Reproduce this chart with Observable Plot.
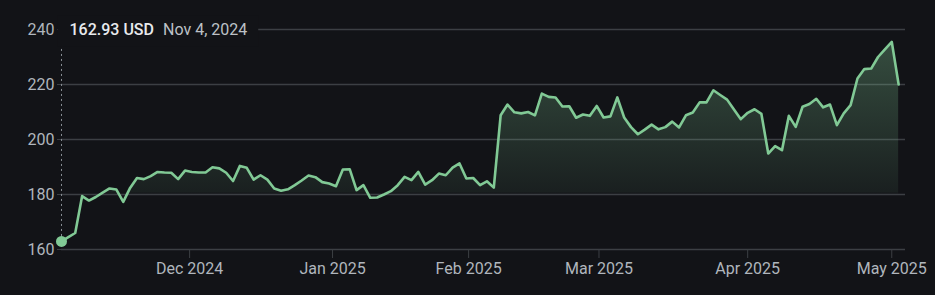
<!DOCTYPE html>
<html><head><meta charset="utf-8">
<script src="https://cdn.jsdelivr.net/npm/d3@7"></script>
<script src="https://cdn.jsdelivr.net/npm/@observablehq/plot@0.6"></script>
<style>
html,body{margin:0;padding:0;background:#121317;}
#chart{width:935px;height:295px;overflow:hidden;}
svg{display:block;}
</style></head><body><div id="chart"></div>
<script>
// Daily closing prices, one per trading day (Nov 4, 2024 – May 2, 2025)
const prices = [
  162.93, 164.5, 166.0, 179.4, 177.8, 179.1, 180.7, 182.2, 181.8, 177.3,
  182.4, 186.0, 185.6, 186.7, 188.2, 188.0, 187.9, 185.6, 188.7, 188.2,
  188.0, 188.0, 189.9, 189.5, 187.9, 184.9, 190.4, 189.7, 185.4, 187.0,
  185.4, 182.2, 181.4, 181.9, 183.4, 185.1, 186.9, 186.3, 184.5, 184.0,
  183.0, 189.1, 189.2, 181.6, 183.4, 178.8, 178.9, 180.0, 181.2, 183.4,
  186.4, 185.2, 188.2, 183.6, 185.2, 187.6, 187.0, 189.8, 191.3, 185.8,
  186.0, 183.4, 184.8, 182.5, 208.8, 212.7, 209.9, 209.5, 210.0, 208.8,
  216.7, 215.5, 215.3, 212.0, 212.1, 207.9, 209.1, 208.6, 212.2, 208.0,
  208.4, 215.3, 208.0, 204.5, 201.9, 203.6, 205.4, 203.7, 204.5, 206.5,
  204.4, 208.8, 209.8, 213.5, 213.5, 217.9, 216.2, 214.5, 210.9, 207.4,
  209.7, 211.0, 209.3, 194.9, 197.6, 196.1, 208.6, 204.6, 211.9, 212.9,
  214.8, 211.7, 212.7, 205.2, 209.5, 212.5, 222.2, 225.6, 225.8, 230.0,
  232.8, 235.5, 220.0
];
const yTicks = [160, 180, 200, 220, 240];
// month boundaries expressed in trading-day positions
const xTickPos = [18.67, 39.5, 59.33, 78.33, 100, 121];
const xTickLabels = ["Dec 2024", "Jan 2025", "Feb 2025", "Mar 2025", "Apr 2025", "May 2025"];
const currency = "USD";
const firstDateLabel = "Nov 4, 2024";

const data = prices.map((v, i) => ({i, v}));
const first = data[0];
const green = "#81c995";
const bg = "#121317";
const gridColor = "#3c3f44";
const labelColor = "#b0b6bd";
const guideDash = "2,3";

const valueLabel = `${first.v.toFixed(2)} ${currency}`;
const ctx = document.createElement("canvas").getContext("2d");
ctx.font = "500 16px Roboto";
const valueWidth = ctx.measureText(valueLabel).width;

const plot = Plot.plot({
  width: 935, height: 295,
  marginLeft: 61, marginRight: 30, marginTop: 29, marginBottom: 46,
  style: {background: bg, color: labelColor, fontFamily: "Roboto, sans-serif", fontSize: "16px", overflow: "visible"},
  x: {domain: [0, 123]},
  y: {domain: [160, 240]},
  marks: [
    Plot.ruleY(yTicks, {stroke: gridColor, strokeWidth: 1.3}),
    Plot.axisY({ticks: yTicks, tickSize: 4, tickPadding: 3, stroke: gridColor, fill: labelColor, fontSize: 16, label: null}),
    Plot.axisX({ticks: xTickPos, tickFormat: (d, i) => xTickLabels[i], tickSize: 9, tickPadding: 4, stroke: gridColor, fill: labelColor, fontSize: 16, label: null}),
    Plot.areaY(data, {x: "i", y1: 160, y2: "v", fill: "url(#areaGrad)", curve: "linear"}),
    Plot.ruleX([first], {x: "i", y1: "v", y2: () => 240, stroke: "#8a9097", strokeDasharray: guideDash, strokeWidth: 1}),
    Plot.line(data, {x: "i", y: "v", stroke: green, strokeWidth: 2.6, strokeLinejoin: "round"}),
    Plot.dot([first], {x: "i", y: "v", r: 5.5, fill: green, stroke: null}),
    Plot.text([first], {x: "i", y: () => 240, text: () => valueLabel, textAnchor: "start", dx: 8, fill: "#e8eaed", fontWeight: 500, fontSize: 16}),
    Plot.text([first], {x: "i", y: () => 240, text: () => firstDateLabel, textAnchor: "start", dx: 8 + valueWidth + 9, fill: "#bdc1c6", fontSize: 16})
  ]
});

document.getElementById("chart").appendChild(plot);

try {
  // vertical gradient for the area, tied to the y scale
  const ys = plot.scale("y");
  const defs = d3.select(plot).insert("defs", ":first-child");
  const grad = defs.append("linearGradient")
    .attr("id", "areaGrad")
    .attr("gradientUnits", "userSpaceOnUse")
    .attr("x1", 0).attr("x2", 0)
    .attr("y1", ys.apply(240)).attr("y2", ys.apply(160));
  [[0, 0.34], [0.74, 0.07], [0.75, 0], [1, 0]].forEach(([o, a]) =>
    grad.append("stop").attr("offset", o).attr("stop-color", green).attr("stop-opacity", a));

  // mask the gridline behind the label and stop the guide line below it
  const texts = Array.from(plot.querySelectorAll("text"));
  const t1 = texts.find(t => t.textContent === valueLabel);
  const t2 = texts.find(t => t.textContent === firstDateLabel);
  if (t1 && t2) {
    const svgBox = plot.getBoundingClientRect();
    const b1 = t1.getBoundingClientRect();
    const b2 = t2.getBoundingClientRect();
    const left = b1.left - svgBox.left - 12;
    const right = b2.right - svgBox.left + 11;
    const top = Math.min(b1.top, b2.top) - svgBox.top - 4;
    const bottom = Math.max(b1.bottom, b2.bottom) - svgBox.top + 8;
    const rect = document.createElementNS("http://www.w3.org/2000/svg", "rect");
    rect.setAttribute("x", left);
    rect.setAttribute("y", top);
    rect.setAttribute("width", right - left);
    rect.setAttribute("height", bottom - top);
    rect.setAttribute("fill", bg);
    let anchor = t1;
    while (anchor.parentNode && anchor.parentNode !== plot) anchor = anchor.parentNode;
    plot.insertBefore(rect, anchor);
    plot.querySelectorAll("[stroke-dasharray]").forEach(el => {
      const lines = el.tagName.toLowerCase() === "line" ? [el] : el.querySelectorAll("line");
      lines.forEach(l => {
        const y1 = +l.getAttribute("y1"), y2 = +l.getAttribute("y2");
        if (y1 < y2) l.setAttribute("y1", Math.max(y1, bottom));
        else l.setAttribute("y2", Math.max(y2, bottom));
      });
    });
  }
} catch (e) { /* keep base chart */ }
</script>
</body></html>
